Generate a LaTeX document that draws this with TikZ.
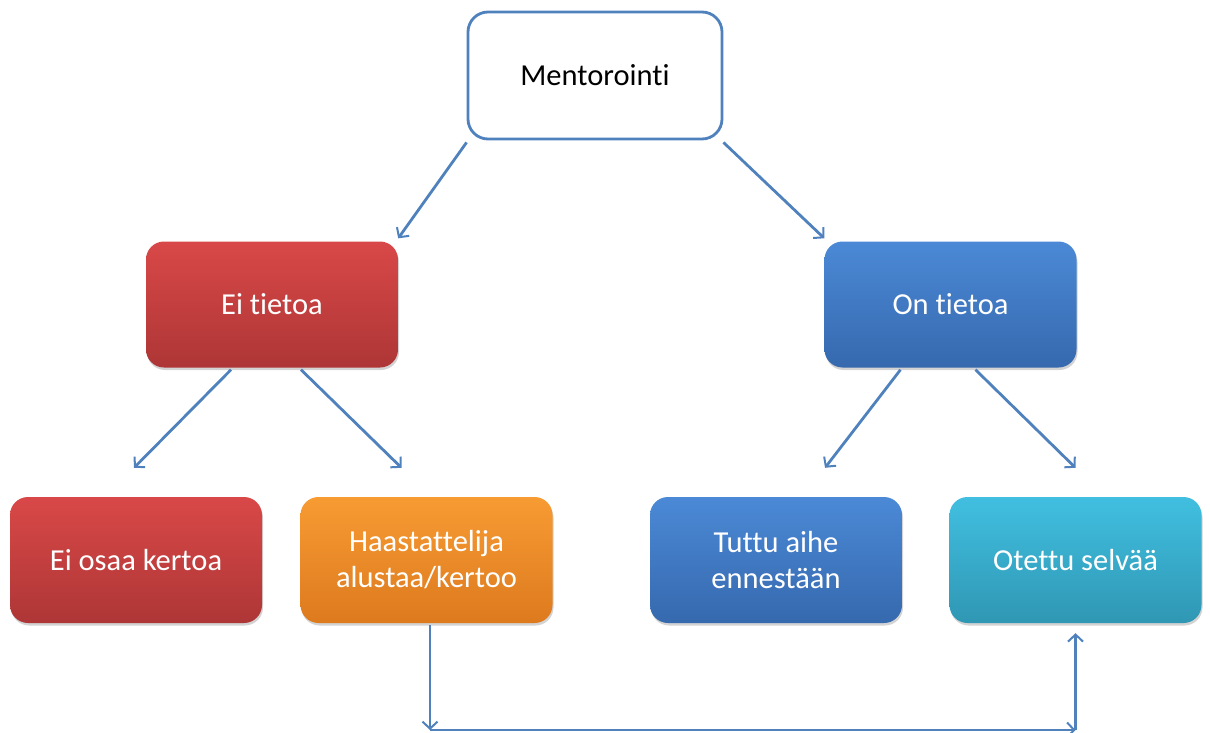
\documentclass[tikz,border=0pt]{standalone}
\usepackage{fontspec}
\setmainfont{Carlito}[Ligatures={NoCommon}]
\usetikzlibrary{arrows.meta,calc,shadows}
\definecolor{lineblue}{HTML}{4F81BD}
\definecolor{redT}{HTML}{D94848}\definecolor{redB}{HTML}{AE3636}
\definecolor{orT}{HTML}{F79B33}\definecolor{orB}{HTML}{DD7A1E}
\definecolor{blT}{HTML}{4B89D6}\definecolor{blB}{HTML}{3669AE}
\definecolor{cyT}{HTML}{41BFE0}\definecolor{cyB}{HTML}{2F97B4}
\tikzset{
  box/.style={rounded corners=18pt, minimum width=252pt, minimum height=126pt, align=center,
    font=\fontsize{30.5}{36}\selectfont, text=white, inner sep=0pt,
    drop shadow={opacity=0.35, shadow xshift=1pt, shadow yshift=-2.5pt}},
  conn/.style={draw=lineblue, line width=2.8pt, -{Straight Barb[length=7pt,width=15pt,line width=2pt]}},
}
\begin{document}
\begin{tikzpicture}[x=1pt,y=-1pt]
\useasboundingbox (0,0) rectangle (1210,733);
\node[rounded corners=20pt, minimum width=254pt, minimum height=127pt, draw=lineblue, line width=2.8pt, fill=white,
  font=\fontsize{30.5}{36}\selectfont, inner sep=0pt] (m) at (595,75.5) {Mentorointi};
\node[box, top color=redT, bottom color=redB] (et) at (272,304.5) {Ei tietoa};
\node[box, top color=blT, bottom color=blB] (ot) at (950.5,304.5) {On tietoa};
\node[box, top color=redT, bottom color=redB] (eo) at (136,560) {Ei osaa kertoa};
\node[box, top color=orT, bottom color=orB] (ha) at (426.5,560) {Haastattelija\\alustaa/kertoo};
\node[box, top color=blT, bottom color=blB] (tu) at (776,560) {Tuttu aihe\\ennestään};
\node[box, top color=cyT, bottom color=cyB] (os) at (1075.5,560) {Otettu selvää};
\draw[conn] ([yshift=-2pt]m.south west) -- ([yshift=3pt]et.north east);
\draw[conn] ([yshift=-2pt]m.south east) -- ([yshift=3pt]ot.north west);
\draw[conn] ([xshift=-41pt,yshift=-2pt]et.south) -- ([xshift=-2pt,yshift=29pt]eo.north);
\draw[conn] ([xshift=29pt,yshift=-2pt]et.south) -- ([xshift=-25pt,yshift=29pt]ha.north);
\draw[conn] ([xshift=-50pt,yshift=-2pt]ot.south) -- ([xshift=49pt,yshift=29pt]tu.north);
\draw[conn] ([xshift=25pt,yshift=-2pt]ot.south) -- ([xshift=0pt,yshift=29pt]os.north);
\coordinate (c1) at ([xshift=3.5pt]ha.south |- 0,730);
\coordinate (c2) at (os.south |- 0,730);
\draw[conn] ([xshift=3.5pt,yshift=-2pt]ha.south) -- (c1);
\draw[conn] (c1) -- (c2);
\draw[conn] (c2) -- ([yshift=-10pt]os.south);
\end{tikzpicture}
\end{document}
